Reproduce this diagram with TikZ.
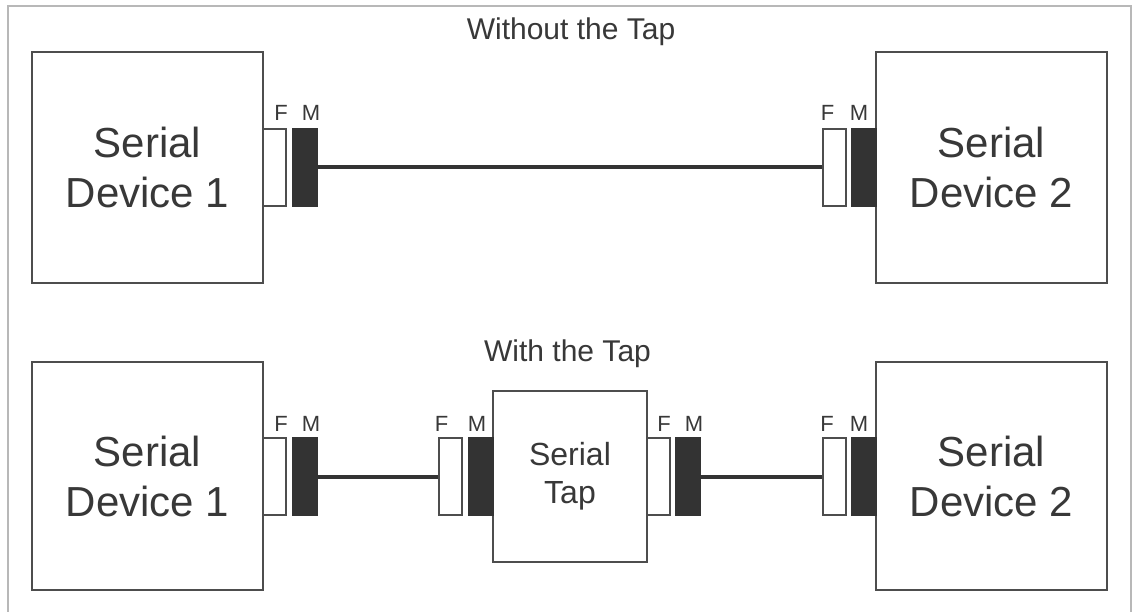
\documentclass[tikz,border=0pt]{standalone}
\usepackage{fontspec}
\setmainfont{Liberation Sans}
\definecolor{boxgray}{HTML}{4D4D4D}
\definecolor{plug}{HTML}{333333}
\definecolor{txt}{HTML}{383838}
\definecolor{framegray}{HTML}{B8B8B8}
\begin{document}
\begin{tikzpicture}[x=1pt,y=-1pt,
  device/.style={draw=boxgray, line width=2pt, fill=white, inner sep=0pt,
    minimum width=231pt, align=center, text=txt,
    font=\fontsize{42}{50}\selectfont},
  tapbox/.style={draw=boxgray, line width=2pt, fill=white, inner sep=0pt,
    minimum width=154pt, minimum height=171pt, align=center, text=txt,
    font=\fontsize{32}{38}\selectfont},
  female/.style={draw=boxgray, line width=2pt, fill=white, inner sep=0pt,
    minimum width=23pt, minimum height=77pt},
  male/.style={fill=plug, inner sep=0pt, minimum width=26pt, minimum height=79pt},
  cable/.style={draw=plug, line width=4pt},
  pinlab/.style={inner sep=0pt, anchor=base, text=txt,
    font=\fontsize{22}{22}\selectfont},
  heading/.style={inner sep=0pt, anchor=base, text=txt,
    font=\fontsize{30}{30}\selectfont},
  frameline/.style={draw=framegray, line width=2pt}
]
\useasboundingbox (0,0) rectangle (1133,612);
\path[fill=white] (0,0) rectangle (1133,612);
\draw[frameline] (8,614) -- (8,6) -- (1131,6) -- (1131,614);

% ---- direct connection ----
\node[heading] (t1) at (571,40) {Without the Tap};
\node[device, minimum height=231pt] (a1) at (147.5,167.5) {Serial\\Device 1};
\node[device, minimum height=231pt] (a2) at (991.5,167.5) {Serial\\Device 2};
\node[female] (af1) at (274.5,167.5) {};
\node[male]   (am1) at (305,167.5) {};
\node[female] (af2) at (834,167.5) {};
\node[male]   (am2) at (864,167.5) {};
\draw[cable] (am1.east) -- (af2.west);
\node[pinlab] (afl1) at (281,121) {F};
\node[pinlab] (aml1) at (311,121) {M};
\node[pinlab] (afl2) at (827.5,121) {F};
\node[pinlab] (aml2) at (859,121) {M};

% ---- connection through the tap ----
\node[heading] (t2) at (567.5,362) {With the Tap};
\node[device, minimum height=228pt] (b1) at (147.5,476) {Serial\\Device 1};
\node[device, minimum height=228pt] (b2) at (991.5,476) {Serial\\Device 2};
\node[tapbox] (tap) at (570,476.5) {Serial\\Tap};
\node[female] (bf1) at (274.5,476.5) {};
\node[male]   (bm1) at (305,476.5) {};
\node[female] (tf1) at (450.5,476.5) {};
\node[male]   (tm1) at (481,476.5) {};
\node[female] (tf2) at (658.5,476.5) {};
\node[male]   (tm2) at (688,476.5) {};
\node[female] (bf2) at (834,476.5) {};
\node[male]   (bm2) at (864,476.5) {};
\draw[cable] (bm1.east) -- (tf1.west);
\draw[cable] (tm2.east) -- (bf2.west);
\node[pinlab] (bfl1) at (281,431) {F};
\node[pinlab] (bml1) at (311,431) {M};
\node[pinlab] (tfl1) at (441.5,431) {F};
\node[pinlab] (tml1) at (477,431) {M};
\node[pinlab] (tfl2) at (664,431) {F};
\node[pinlab] (tml2) at (694,431) {M};
\node[pinlab] (bfl2) at (827,431) {F};
\node[pinlab] (bml2) at (859,431) {M};
\end{tikzpicture}
\end{document}
